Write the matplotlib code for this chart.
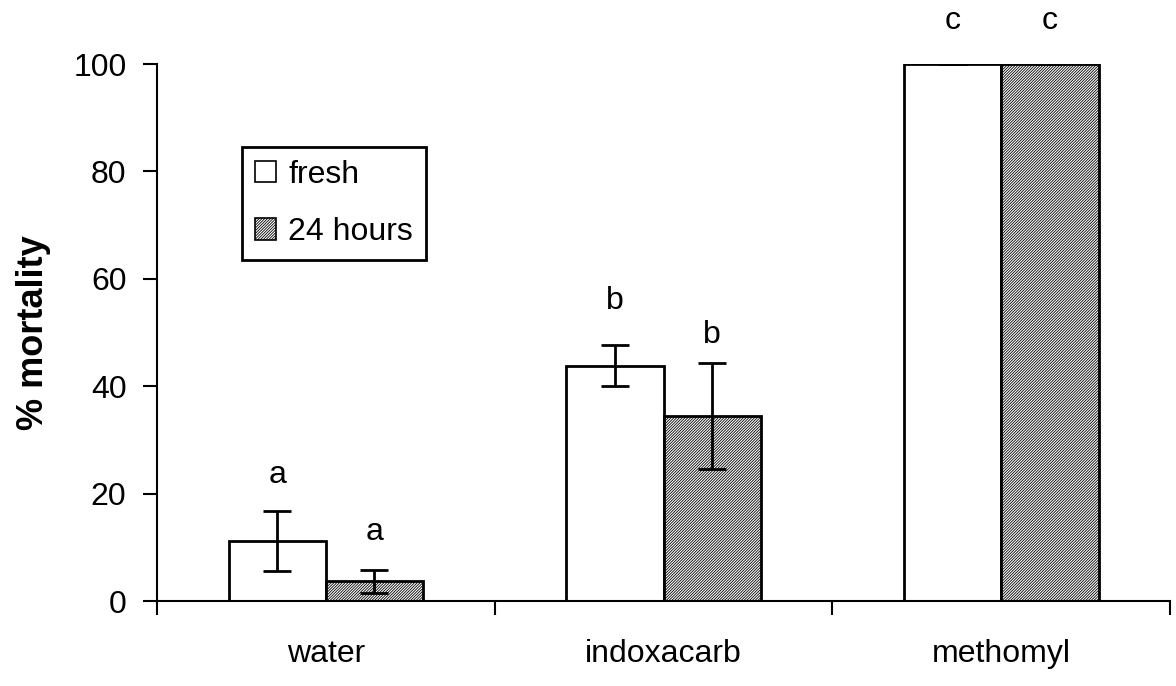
import matplotlib
matplotlib.use("Agg")
import matplotlib.pyplot as plt
import numpy as np

plt.rcParams['font.family'] = ['Liberation Sans', 'DejaVu Sans']
plt.rcParams['hatch.linewidth'] = 0.6

categories = ["water", "indoxacarb", "methomyl"]
series = ["fresh", "24 hours"]
fresh = [11.2, 43.8, 100.0]
fresh_lo = [5.5, 40.0, 100.0]
fresh_hi = [16.7, 47.7, 100.0]
aged = [3.7, 34.5, 100.0]
aged_lo = [1.5, 24.5, 100.0]
aged_hi = [5.8, 44.3, 100.0]
fresh_letters = ["a", "b", "c"]
aged_letters = ["a", "b", "c"]
fresh_letter_y = [23.5, 55.8, 108.0]
aged_letter_y = [12.8, 49.6, 108.0]
yticks = [0, 20, 40, 60, 80, 100]

FS = 23

fig = plt.figure(figsize=(11.76, 6.86), dpi=100)
ax = fig.add_axes([0.1335, 0.1239, 0.8615, 0.7828])

x = np.arange(len(categories))
w = 0.288
f = np.array(fresh); a = np.array(aged)
fe = [f - np.array(fresh_lo), np.array(fresh_hi) - f]
ae = [a - np.array(aged_lo), np.array(aged_hi) - a]

b1 = ax.bar(x - w/2, f, w, facecolor='white', edgecolor='black', linewidth=2, label=series[0], zorder=2)
b2 = ax.bar(x + w/2, a, w, facecolor='white', edgecolor='black', linewidth=2, hatch='////////////', label=series[1], zorder=2)
ax.errorbar(x - w/2, f, yerr=fe, fmt='none', ecolor='black', elinewidth=2, capsize=10, capthick=2, zorder=3)
ax.errorbar(x + w/2, a, yerr=ae, fmt='none', ecolor='black', elinewidth=2, capsize=10, capthick=2, zorder=3)

for i in range(len(categories)):
    ax.text(x[i] - w/2, fresh_letter_y[i], fresh_letters[i], ha='center', va='center', fontsize=FS, clip_on=False)
    ax.text(x[i] + w/2, aged_letter_y[i], aged_letters[i], ha='center', va='center', fontsize=FS, clip_on=False)

ax.set_xlim(-0.5, 2.5)
ax.set_ylim(0, 100)
ax.set_yticks(yticks)
ax.set_xticks(x)
ax.set_xticklabels(categories, fontsize=FS)
ax.tick_params(axis='x', length=0, pad=27)
ax.set_xticks([-0.5, 0.5, 1.5, 2.5], minor=True)
ax.tick_params(axis='x', which='minor', length=10, width=1.5, direction='out')
ax.tick_params(axis='y', labelsize=FS, length=10, width=1.5, direction='out', pad=12)
for s in ['top', 'right']:
    ax.spines[s].set_visible(False)
for s in ['left', 'bottom']:
    ax.spines[s].set_linewidth(1.5)

ax.set_ylabel("% mortality", fontsize=26, fontweight='bold', labelpad=16)

leg = ax.legend(loc='upper left', bbox_to_anchor=(0.084, 0.845), fontsize=FS, frameon=True, fancybox=False,
                edgecolor='black', handlelength=0.65, handleheight=0.65, handletextpad=0.4,
                borderpad=0.4, labelspacing=0.85, borderaxespad=0, framealpha=1)
leg.get_frame().set_linewidth(2)
for h in leg.legend_handles:
    h.set_linewidth(1.2)

fig.savefig("out.png", dpi=100)
